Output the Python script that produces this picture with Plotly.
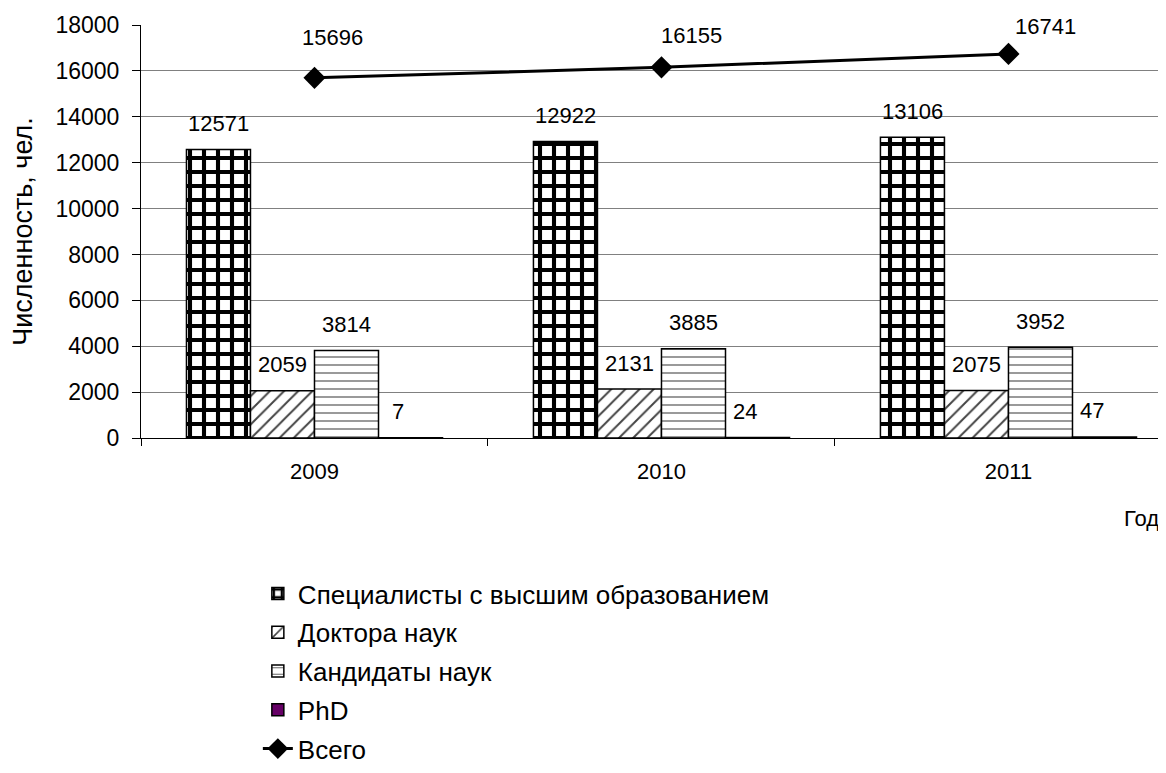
import plotly.graph_objects as go

years = ["2009", "2010", "2011"]
specialists = [12571, 12922, 13106]
doctors = [2059, 2131, 2075]
candidates = [3814, 3885, 3952]
phd = [7, 24, 47]
total = [15696, 16155, 16741]

names = ["Специалисты с высшим образованием", "Доктора наук", "Кандидаты наук", "PhD", "Всего"]

FONT = "Liberation Sans, Arial, sans-serif"
FS = 22
LFS = 26

fig = go.Figure()

bar_styles = [
    dict(pattern=dict(shape="+", size=14, solidity=0.5, fgcolor="black", bgcolor="white", fillmode="replace"), color="white"),
    dict(pattern=dict(shape="/", size=10, solidity=0.2, fgcolor="#444444", bgcolor="white", fillmode="replace"), color="white"),
    dict(pattern=dict(shape="-", size=8, solidity=0.15, fgcolor="#555555", bgcolor="white", fillmode="replace"), color="white"),
    dict(pattern=None, color="#660066"),
]
series = [specialists, doctors, candidates, phd]

for i, (vals, st) in enumerate(zip(series, bar_styles)):
    marker = dict(color=st["color"], line=dict(color="black", width=1.5))
    if st["pattern"]:
        marker["pattern"] = st["pattern"]
    fig.add_trace(go.Bar(x=years, y=vals, name=names[i], marker=marker,
                         legendgroup=f"g{i}"))

fig.add_trace(go.Scatter(x=years, y=total, name=names[4], mode="lines+markers",
                         line=dict(color="black", width=3),
                         marker=dict(symbol="diamond", size=17, color="black"),
                         legendgroup="g4"))

# labels (category index positions on the category axis)
bar_dx = [-96, -32, 32, 84]
for vals, dx in zip(series, bar_dx):
    for idx, v in enumerate(vals):
        fig.add_annotation(x=idx, y=v, xref="x", yref="y", text=str(v), showarrow=False,
                           xshift=dx, yshift=26, yanchor="middle",
                           font=dict(size=FS, color="black", family=FONT))
line_dx = [18, 30, 37]
line_dy = [40, 32, 27]
for idx, (v, dx, dy) in enumerate(zip(total, line_dx, line_dy)):
    fig.add_annotation(x=idx, y=v, xref="x", yref="y", text=str(v), showarrow=False,
                       xshift=dx, yshift=dy, yanchor="middle",
                       font=dict(size=FS, color="black", family=FONT))

fig.add_annotation(xref="paper", yref="paper", x=0.957, y=-0.196, text="Год", showarrow=False,
                   xanchor="left", yanchor="middle", font=dict(size=FS, color="black", family=FONT))

# page body has an 8px margin: figure is sized/offset to compensate
fig.update_layout(
    width=1158, height=765,
    margin=dict(l=133, r=0, t=17, b=334),
    paper_bgcolor="white", plot_bgcolor="white",
    font=dict(family=FONT, size=FS, color="black"),
    barmode="group", bargap=0.262, bargroupgap=0,
    showlegend=True,
    legend=dict(x=0.114, y=-0.3205, xanchor="left", yanchor="top", orientation="v",
                traceorder="grouped", tracegroupgap=2, font=dict(size=LFS, family=FONT),
                bgcolor="rgba(0,0,0,0)"),
)
fig.update_xaxes(type="category", range=[-0.5, 2.454], showgrid=False,
                 showline=True, linecolor="black", linewidth=1,
                 ticks="outside", tickson="boundaries", ticklen=7, tickcolor="black",
                 ticklabelstandoff=14, tickfont=dict(size=FS, family=FONT))
fig.update_yaxes(range=[0, 18000], dtick=2000, tickformat="d",
                 showgrid=True, gridcolor="#808080", gridwidth=1,
                 showline=True, linecolor="black", linewidth=1,
                 ticks="outside", ticklen=8, tickcolor="black", ticklabelstandoff=8,
                 zeroline=False,
                 title=dict(text="Численность, чел.", standoff=16, font=dict(size=27, family=FONT)),
                 tickfont=dict(size=23, family=FONT), automargin=False)

fig.write_html("out.html")
